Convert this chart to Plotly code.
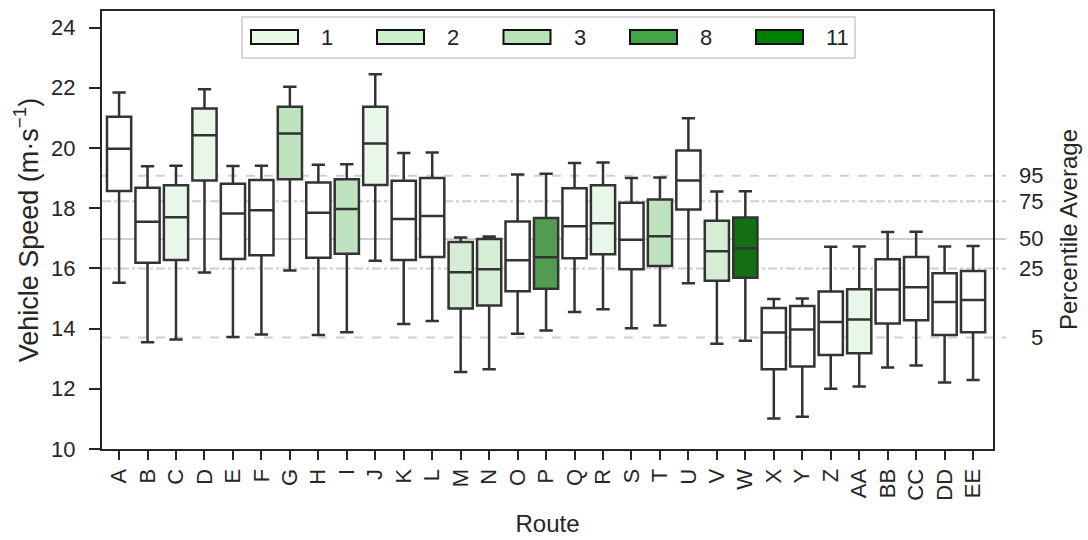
import plotly.graph_objects as go

routes = ["A","B","C","D","E","F","G","H","I","J","K","L","M","N","O","P","Q","R","S","T",
          "U","V","W","X","Y","Z","AA","BB","CC","DD","EE"]
whis_lo = [15.52,13.55,13.64,15.86,13.72,13.80,15.93,13.79,13.88,16.25,14.15,14.25,12.56,12.65,13.83,13.94,
           14.55,14.64,14.01,14.10,15.51,13.50,13.60,11.01,11.07,12.00,12.08,12.71,12.77,12.21,12.29]
q1 = [18.57,16.19,16.28,18.92,16.31,16.44,18.96,16.35,16.49,18.77,16.28,16.38,14.67,14.77,15.24,15.32,
      16.34,16.47,15.97,16.08,17.96,15.59,15.69,12.65,12.74,13.12,13.18,14.17,14.28,13.79,13.88]
medians = [19.97,17.55,17.70,20.42,17.82,17.93,20.48,17.85,17.97,20.15,17.64,17.74,15.87,15.97,16.27,16.37,
           17.40,17.50,16.95,17.07,18.92,16.57,16.67,13.87,13.97,14.22,14.30,15.30,15.37,14.88,14.95]
q3 = [21.04,18.68,18.76,21.31,18.81,18.94,21.37,18.85,18.96,21.37,18.91,19.00,16.88,16.98,17.56,17.67,
      18.66,18.76,18.18,18.29,19.92,17.58,17.69,14.68,14.75,15.23,15.31,16.30,16.38,15.84,15.91]
whis_hi = [21.84,19.39,19.41,21.95,19.40,19.41,22.03,19.44,19.46,22.45,19.83,19.85,17.03,17.06,19.12,19.14,
           19.50,19.52,19.00,19.02,20.99,18.55,18.56,14.98,15.00,16.72,16.73,17.21,17.22,16.73,16.74]
groups = [0,0,1,1,0,0,3,0,3,1,0,0,2,2,0,8,0,1,0,3,0,2,11,0,0,0,1,0,0,0,0]

legend_groups = [1, 2, 3, 8, 11]
legend_colors = ["#e6fae6", "#cdf1cd", "#b8e2b8", "#45a445", "#008000"]
box_colors = {0: "#ffffff", 1: "#e8f8e8", 2: "#d4edd4", 3: "#bfe2bf", 8: "#529c52", 11: "#136f13"}

pct_values = [19.08, 18.23, 16.98, 16.00, 13.70]
pct_labels = ["95", "75", "50", "25", "5"]
pct_dash = ["dash", "dashdot", "solid", "dashdot", "dash"]

FONT = "Liberation Sans, Arial, sans-serif"
INK = "#262626"
TICK_SIZE = 22
TITLE_SIZE = 24

fig = go.Figure()
for r, lo, a, m, b, hi, g in zip(routes, whis_lo, q1, medians, q3, whis_hi, groups):
    fig.add_trace(go.Box(
        x=[r], q1=[a], median=[m], q3=[b], lowerfence=[lo], upperfence=[hi],
        fillcolor=box_colors[g], line=dict(color="#333333", width=2.5),
        whiskerwidth=0.55, width=0.85, boxpoints=False, showlegend=False,
        hoverinfo="skip"))

shapes = []
for v, d in zip(pct_values, pct_dash):
    shapes.append(dict(type="line", xref="paper", yref="y", x0=0, x1=1.015, y0=v, y1=v,
                       line=dict(color="#cfcfcf", width=2, dash=d), layer="below"))

annotations = []
for v, t in zip(pct_values, pct_labels):
    annotations.append(dict(xref="paper", yref="y", x=1.0584, y=v, text=t, showarrow=False,
                            xanchor="right", yanchor="middle",
                            font=dict(size=TICK_SIZE, color=INK, family=FONT)))
annotations.append(dict(xref="paper", yref="paper", x=1.0847, y=0.501, text="Percentile Average",
                        showarrow=False, textangle=-90, xanchor="center", yanchor="middle",
                        font=dict(size=TITLE_SIZE, color=INK, family=FONT)))

# custom legend (pixel -> paper helpers)
L, PW, PH, BOT = 102, 891, 438, 449
def px(x): return (x - L) / PW
def py(y): return (BOT - y) / PH

shapes.append(dict(type="rect", xref="paper", yref="paper", x0=px(242), x1=px(855), y0=py(58), y1=py(17),
                   line=dict(color="#cccccc", width=1.5), fillcolor="rgba(255,255,255,0.85)", layer="above"))
patch_left = [251, 377, 503.5, 630, 756]
for lx, col, g in zip(patch_left, legend_colors, legend_groups):
    shapes.append(dict(type="rect", xref="paper", yref="paper", x0=px(lx), x1=px(lx + 47),
                       y0=py(44), y1=py(30), fillcolor=col, line=dict(color="#111111", width=2), layer="above"))
    annotations.append(dict(xref="paper", yref="paper", x=px(lx + 68), y=py(37.5), text=str(g),
                            showarrow=False, xanchor="left", yanchor="middle",
                            font=dict(size=TICK_SIZE, color=INK, family=FONT)))

fig.update_layout(
    width=1088, height=540,
    margin=dict(l=102, r=95, t=11, b=91),
    plot_bgcolor="white", paper_bgcolor="white",
    font=dict(family=FONT, size=TICK_SIZE, color=INK),
    boxmode="overlay",
    shapes=shapes, annotations=annotations,
    xaxis=dict(type="category", categoryorder="array", categoryarray=routes,
               range=[-0.6, 30.7], tickangle=-90, ticks="outside", ticklen=9, tickwidth=1.8,
               tickcolor=INK, showline=True, linecolor=INK, linewidth=2.2, mirror=True,
               showgrid=False, zeroline=False, tickfont=dict(size=TICK_SIZE), automargin=False,
               title=dict(text="Route", font=dict(size=TITLE_SIZE), standoff=16)),
    yaxis=dict(range=[10, 24.55], tickvals=[10, 12, 14, 16, 18, 20, 22, 24],
               ticks="outside", ticklen=11, tickwidth=1.8, tickcolor=INK, ticklabelstandoff=9,
               showline=True, linecolor=INK, linewidth=2.2, mirror=True,
               showgrid=False, zeroline=False, tickfont=dict(size=TICK_SIZE), automargin=False,
               title=dict(text="Vehicle Speed (m·s<sup>−1</sup>)", font=dict(size=27), standoff=5)),
)

fig.write_html("out.html", config={"displayModeBar": False},
               post_script="document.body.style.margin='0';document.body.style.padding='0';")
